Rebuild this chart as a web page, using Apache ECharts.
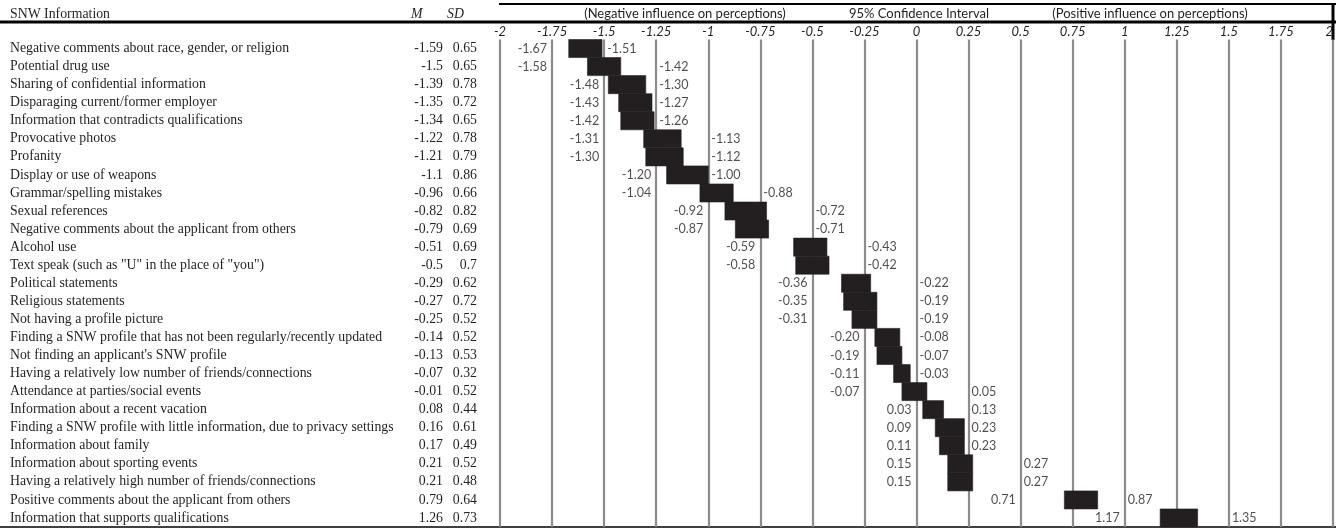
<!DOCTYPE html>
<html><head><meta charset="utf-8">
<script src="https://cdn.jsdelivr.net/npm/echarts@6/dist/echarts.min.js"></script>
<style>html,body{margin:0;padding:0;background:#fff}#c{width:1336px;height:528px}</style>
</head><body><div id="c"></div>
<script>
const items = [
  'Negative comments about race, gender, or religion',
  'Potential drug use',
  'Sharing of confidential information',
  'Disparaging current/former employer',
  'Information that contradicts qualifications',
  'Provocative photos',
  'Profanity',
  'Display or use of weapons',
  'Grammar/spelling mistakes',
  'Sexual references',
  'Negative comments about the applicant from others',
  'Alcohol use',
  'Text speak (such as "U" in the place of "you")',
  'Political statements',
  'Religious statements',
  'Not having a profile picture',
  'Finding a SNW profile that has not been regularly/recently updated',
  "Not finding an applicant's SNW profile",
  'Having a relatively low number of friends/connections',
  'Attendance at parties/social events',
  'Information about a recent vacation',
  'Finding a SNW profile with little information, due to privacy settings',
  'Information about family',
  'Information about sporting events',
  'Having a relatively high number of friends/connections',
  'Positive comments about the applicant from others',
  'Information that supports qualifications'
];
const means = [-1.59,-1.5,-1.39,-1.35,-1.34,-1.22,-1.21,-1.1,-0.96,-0.82,-0.79,-0.51,-0.5,-0.29,-0.27,-0.25,-0.14,-0.13,-0.07,-0.01,0.08,0.16,0.17,0.21,0.21,0.79,1.26];
const sds = [0.65,0.65,0.78,0.72,0.65,0.78,0.79,0.86,0.66,0.82,0.69,0.69,0.7,0.62,0.72,0.52,0.52,0.53,0.32,0.52,0.44,0.61,0.49,0.52,0.48,0.64,0.73];
const lowerCI = [-1.67,-1.58,-1.48,-1.43,-1.42,-1.31,-1.30,-1.20,-1.04,-0.92,-0.87,-0.59,-0.58,-0.36,-0.35,-0.31,-0.20,-0.19,-0.11,-0.07,0.03,0.09,0.11,0.15,0.15,0.71,1.17];
const upperCI = [-1.51,-1.42,-1.30,-1.27,-1.26,-1.13,-1.12,-1.00,-0.88,-0.72,-0.71,-0.43,-0.42,-0.22,-0.19,-0.19,-0.08,-0.07,-0.03,0.05,0.13,0.23,0.23,0.27,0.27,0.87,1.35];
const xMin = -2, xMax = 2, xStep = 0.25;
const headerTexts = ['(Negative influence on perceptions)', '95% Confidence Interval', '(Positive influence on perceptions)'];

const INK = '#231f20';
const serif = 'Liberation Serif';
const sans = 'Lato';

const barData = items.map((_, i) => [i, lowerCI[i], upperCI[i]]);
const loLabels = items.map((_, i) => [Math.floor(lowerCI[i] / xStep + 1e-9) * xStep, i, lowerCI[i]]);
const hiLabels = items.map((_, i) => [Math.ceil(upperCI[i] / xStep - 1e-9) * xStep, i, upperCI[i]]);

const yBase = {
  type: 'category', inverse: true, position: 'left', gridIndex: 0,
  axisLine: { show: false }, axisTick: { show: false }, splitLine: { show: false }
};
const lblStyle = { fontFamily: serif, fontSize: 13.8, color: INK, interval: 0 };

const chart = echarts.init(document.getElementById('c'));
chart.setOption({
  animation: false,
  grid: { left: 500, right: 3, top: 39.5, bottom: 1, containLabel: false },
  xAxis: {
    type: 'value', min: xMin, max: xMax, interval: xStep, position: 'top',
    axisLine: { show: false }, axisTick: { show: false },
    axisLabel: { margin: 1, fontFamily: sans, fontSize: 13, fontStyle: 'italic', color: INK, alignMaxLabel: 'right' },
    splitLine: { show: true, lineStyle: { color: '#8c8c8c', width: 2.2 } }
  },
  yAxis: [
    Object.assign({}, yBase, { data: items, axisLabel: Object.assign({}, lblStyle, { align: 'left', margin: 490 }) }),
    Object.assign({}, yBase, { data: means.map(String), axisLabel: Object.assign({}, lblStyle, { align: 'right', margin: 57 }) }),
    Object.assign({}, yBase, { data: sds.map(String), axisLabel: Object.assign({}, lblStyle, { align: 'right', margin: 23 }) })
  ],
  series: [
    {
      type: 'custom', yAxisIndex: 0, data: barData, encode: { x: [1, 2], y: 0 },
      renderItem: function (params, api) {
        const idx = api.value(0);
        const a = api.coord([api.value(1), idx]);
        const b = api.coord([api.value(2), idx]);
        const h = api.size([0, 1])[1];
        return { type: 'rect', shape: { x: a[0], y: a[1] - h / 2, width: b[0] - a[0], height: h },
          style: { fill: INK, stroke: INK, lineWidth: 0.6 } };
      }
    },
    {
      type: 'scatter', yAxisIndex: 0, data: loLabels, symbolSize: 0, silent: true,
      label: { show: true, position: 'left', distance: 5, fontFamily: sans, fontSize: 12.5, color: INK,
        formatter: p => p.value[2].toFixed(2) }
    },
    {
      type: 'scatter', yAxisIndex: 0, data: hiLabels, symbolSize: 0, silent: true,
      label: { show: true, position: 'right', distance: 3, fontFamily: sans, fontSize: 12.5, color: INK,
        formatter: p => p.value[2].toFixed(2) }
    }
  ],
  graphic: [
    { type: 'text', left: 10, top: 7, style: { text: 'SNW Information', font: '13.8px "Liberation Serif"', fill: INK } },
    { type: 'text', left: 411, top: 7, style: { text: 'M', font: 'italic 13.8px "Liberation Serif"', fill: INK } },
    { type: 'text', left: 447, top: 7, style: { text: 'SD', font: 'italic 13.8px "Liberation Serif"', fill: INK } },
    { type: 'text', x: 685, y: 14, style: { text: headerTexts[0], font: '13px Lato', fill: INK, align: 'center', verticalAlign: 'middle' } },
    { type: 'text', x: 919, y: 14, style: { text: headerTexts[1], font: '13px Lato', fill: INK, align: 'center', verticalAlign: 'middle' } },
    { type: 'text', x: 1150, y: 14, style: { text: headerTexts[2], font: '13px Lato', fill: INK, align: 'center', verticalAlign: 'middle' } },
    { type: 'line', shape: { x1: 499, y1: 4, x2: 1336, y2: 4 }, style: { stroke: '#000', lineWidth: 2 } },
    { type: 'line', shape: { x1: 0, y1: 22, x2: 1336, y2: 22 }, style: { stroke: '#000', lineWidth: 3 } },
    { type: 'line', shape: { x1: 1333, y1: 3, x2: 1333, y2: 40 }, style: { stroke: '#000', lineWidth: 3 } },
    { type: 'line', shape: { x1: 0, y1: 527, x2: 1336, y2: 527 }, style: { stroke: '#000', lineWidth: 1.5 } }
  ]
});
</script></body></html>
